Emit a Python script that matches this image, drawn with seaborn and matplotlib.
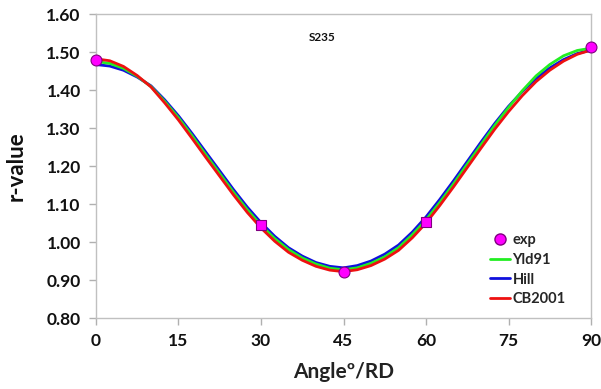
import numpy as np
import pandas as pd
import matplotlib
matplotlib.use("Agg")
import matplotlib.pyplot as plt
from matplotlib.lines import Line2D
import seaborn as sns

# Angles to the rolling direction (degrees), 2.5 degree steps
angles = [0, 2.5, 5, 7.5, 10, 12.5, 15, 17.5, 20, 22.5, 25, 27.5, 30, 32.5, 35,
          37.5, 40, 42.5, 45, 47.5, 50, 52.5, 55, 57.5, 60, 62.5, 65, 67.5, 70,
          72.5, 75, 77.5, 80, 82.5, 85, 87.5, 90]

# Predicted r-values for each yield criterion
r_hill = [1.467, 1.463, 1.452, 1.434, 1.411, 1.374, 1.332, 1.285, 1.236, 1.187,
          1.138, 1.092, 1.051, 1.015, 0.985, 0.963, 0.946, 0.936, 0.932, 0.938,
          0.950, 0.968, 0.992, 1.026, 1.066, 1.112, 1.161, 1.212, 1.263, 1.312,
          1.357, 1.396, 1.430, 1.458, 1.480, 1.496, 1.505]
r_yld91 = [1.475, 1.470, 1.457, 1.436, 1.409, 1.370, 1.327, 1.279, 1.229, 1.180,
           1.131, 1.085, 1.044, 1.009, 0.980, 0.958, 0.942, 0.931, 0.927, 0.932,
           0.944, 0.961, 0.985, 1.019, 1.058, 1.104, 1.153, 1.205, 1.256, 1.307,
           1.354, 1.398, 1.437, 1.467, 1.490, 1.504, 1.510]
r_cb2001 = [1.482, 1.477, 1.462, 1.438, 1.408, 1.366, 1.321, 1.272, 1.222, 1.173,
            1.124, 1.078, 1.037, 1.002, 0.973, 0.952, 0.936, 0.926, 0.922, 0.927,
            0.938, 0.955, 0.978, 1.011, 1.050, 1.096, 1.145, 1.196, 1.247, 1.297,
            1.343, 1.385, 1.422, 1.452, 1.476, 1.494, 1.505]

# Experimental r-values
exp_angles = [0, 30, 45, 60, 90]
exp_r = [1.48, 1.045, 0.922, 1.053, 1.512]
exp_marker = ["o", "s", "o", "s", "o"]

x_ticks = [0, 15, 30, 45, 60, 75, 90]
y_ticks = [0.80, 0.90, 1.00, 1.10, 1.20, 1.30, 1.40, 1.50, 1.60]

series_names = ["Yld91", "Hill", "CB2001"]
series_colors = {"Yld91": "#22ee22", "Hill": "#1010dd", "CB2001": "#ee1111"}

sns.set_theme(style="white")
plt.rcParams["font.family"] = ["Lato", "DejaVu Sans"]
plt.rcParams["font.weight"] = "bold"

n = len(angles)
curves = pd.DataFrame({
    "angle": angles * 3,
    "r": r_hill + r_yld91 + r_cb2001,
    "model": ["Hill"] * n + ["Yld91"] * n + ["CB2001"] * n,
})

fig = plt.figure(figsize=(6.01, 3.89), dpi=100)
ax = fig.add_axes([0.1597, 0.1825, 0.8237, 0.7815])

sns.lineplot(data=curves, x="angle", y="r", hue="model",
             hue_order=["Hill", "Yld91", "CB2001"], palette=series_colors,
             linewidth=2.0, legend=False, ax=ax, sort=False)

exp_df = pd.DataFrame({"angle": exp_angles, "r": exp_r, "m": exp_marker})
for mk, sub in exp_df.groupby("m"):
    sns.scatterplot(data=sub, x="angle", y="r", marker=mk,
                    s=62 if mk == "o" else 52, color="#ff00ff",
                    edgecolor="#800080", linewidth=0.8, zorder=5, ax=ax,
                    legend=False, clip_on=False)

ax.set_xlim(0, 90)
ax.set_ylim(0.80, 1.60)
ax.set_xticks(x_ticks)
ax.set_yticks(y_ticks)
ax.set_xticklabels([str(t) for t in x_ticks])
ax.set_yticklabels([f"{t:.2f}" for t in y_ticks])

for s in ax.spines.values():
    s.set_color("#c0c0c0")
    s.set_linewidth(1.0)
ax.tick_params(axis="both", which="major", direction="out", length=5,
               width=1.0, color="#b0b0b0", labelsize=12.5, labelcolor="#111111",
               left=True, bottom=True, pad=6)
for lab in ax.get_xticklabels() + ax.get_yticklabels():
    lab.set_fontweight("bold")

ax.set_xlabel("Angleº/RD", fontsize=15, fontweight="bold", color="#222222", labelpad=9)
ax.set_ylabel("r-value", fontsize=16, fontweight="bold", color="#111111", labelpad=14)

ax.text(0.457, 0.922, "S235", transform=ax.transAxes, fontsize=8.5,
        fontweight="bold", color="#111111", ha="center", va="center")

handles = [
    Line2D([], [], marker="o", linestyle="none", markerfacecolor="#ff00ff",
           markeredgecolor="#800080", markersize=8, label="exp"),
] + [Line2D([], [], color=series_colors[k], linewidth=2.0, label=k) for k in series_names]
ax.legend(handles=handles, loc="lower right", bbox_to_anchor=(0.975, -0.005),
          frameon=False, handlelength=1.4, handletextpad=0.15,
          labelspacing=0.4, prop={"weight": "bold", "size": 10.5})

fig.savefig("out.png", dpi=100)
